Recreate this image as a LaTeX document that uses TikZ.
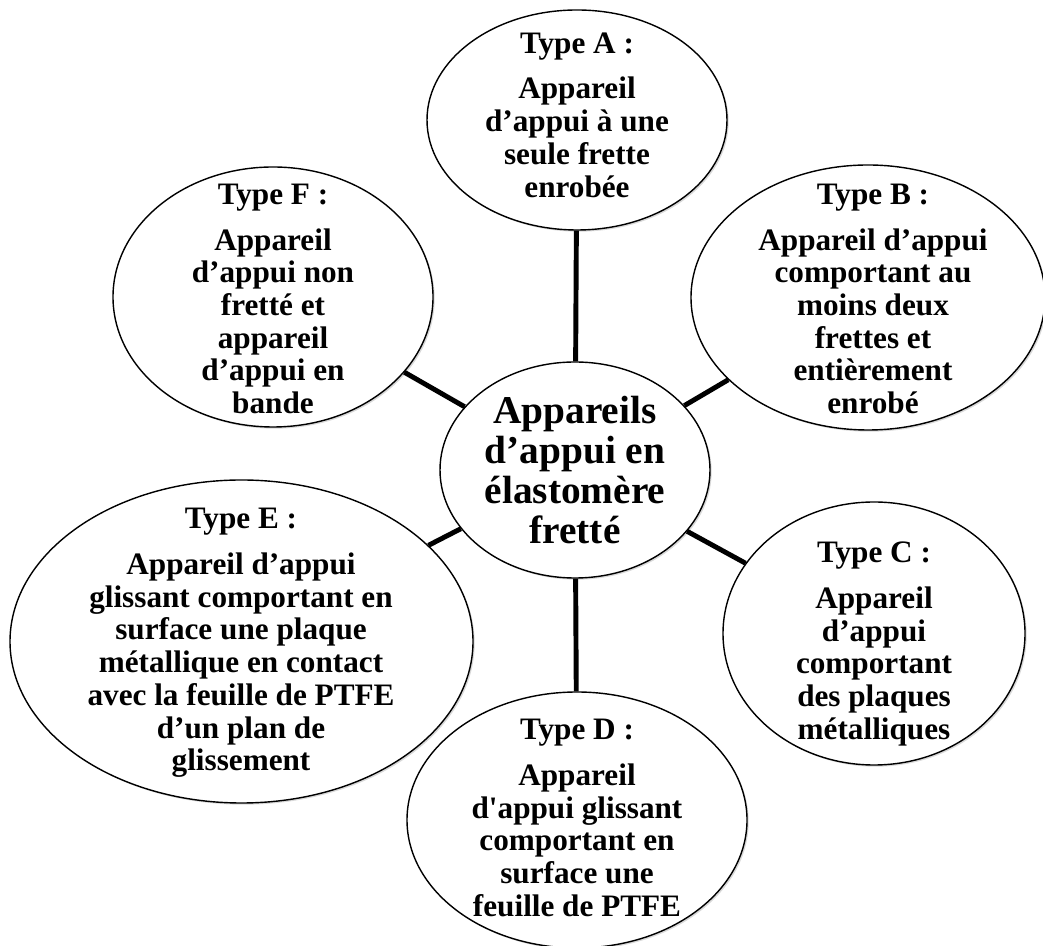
\documentclass[tikz,border=0pt]{standalone}
\usepackage{fontspec}
\setmainfont{Liberation Serif}
\usepackage{tikz}
\usetikzlibrary{shapes, positioning, shadows}

\begin{document}
\begin{tikzpicture}[
    bubble/.style={ellipse, draw, line width=1pt, fill=white, inner sep=0pt,
        drop shadow={shadow xshift=1.2pt, shadow yshift=-1.2pt, opacity=0.3}},
    bubbletext/.style={align=center, inner sep=0pt,
        font=\fontsize{22.2}{23.25}\selectfont\bfseries},
    maintext/.style={align=center, inner sep=0pt,
        font=\fontsize{28}{28.4}\selectfont\bfseries},
    link/.style={line width=3.5pt}
]
    % Frame
    \useasboundingbox (0,0) rectangle (26.075,23.65);

    % Centre
    \node[bubble, minimum width=6.75cm, minimum height=5.4cm] (centre) at (14.375,11.9) {};
    \node[maintext] (centre-txt) at (centre) {Appareils\\d’appui en\\élastomère\\fretté};

    % Type A
    \node[bubble, minimum width=7.5cm, minimum height=5.5cm] (typeA) at (14.425,20.65) {};
    \node[bubbletext] (typeA-txt) at (14.425,20.775)
        {Type A :\\[9.3pt]Appareil\\d’appui à une\\seule frette\\enrobée};

    % Type B
    \node[bubble, minimum width=8.85cm, minimum height=6.625cm] (typeB) at (21.7,16.2125) {};
    \node[bubbletext] (typeB-txt) at (21.825,16.175)
        {Type B :\\[9.3pt]Appareil d’appui\\comportant au\\moins deux\\frettes et\\entièrement\\enrobé};

    % Type C
    \node[bubble, minimum width=7.55cm, minimum height=6.575cm] (typeC) at (21.85,7.8125) {};
    \node[bubbletext] (typeC-txt) at (21.85,7.55)
        {Type C :\\[9.3pt]Appareil\\d’appui\\comportant\\des plaques\\métalliques};

    % Type D
    \node[bubble, minimum width=8.5cm, minimum height=6.4cm] (typeD) at (14.425,3.15) {};
    \node[bubbletext] (typeD-txt) at (14.425,3.2)
        {Type D :\\[9.3pt]Appareil\\d\textquotesingle appui glissant\\comportant en\\surface une\\feuille de PTFE};

    % Type E
    \node[bubble, minimum width=11.575cm, minimum height=8.075cm] (typeE) at (6.0375,7.6125) {};
    \node[bubbletext] (typeE-txt) at (6.025,7.575)
        {Type E :\\[9.3pt]Appareil d’appui\\glissant comportant en\\surface une plaque\\métallique en contact\\avec la feuille de PTFE\\d’un plan de\\glissement};

    % Type F
    \node[bubble, minimum width=8cm, minimum height=6.5cm] (typeF) at (6.825,16.225) {};
    \node[bubbletext] (typeF-txt) at (6.825,16.175)
        {Type F :\\[9.3pt]Appareil\\d’appui non\\fretté et\\appareil\\d’appui en\\bande};

    % Links
    \draw[link] (centre) -- (typeA);
    \draw[link] (centre) -- (typeB);
    \draw[link] (centre) -- (typeC);
    \draw[link] (centre) -- (typeD);
    \draw[link] (centre) -- (typeE);
    \draw[link] (centre) -- (typeF);
\end{tikzpicture}
\end{document}
